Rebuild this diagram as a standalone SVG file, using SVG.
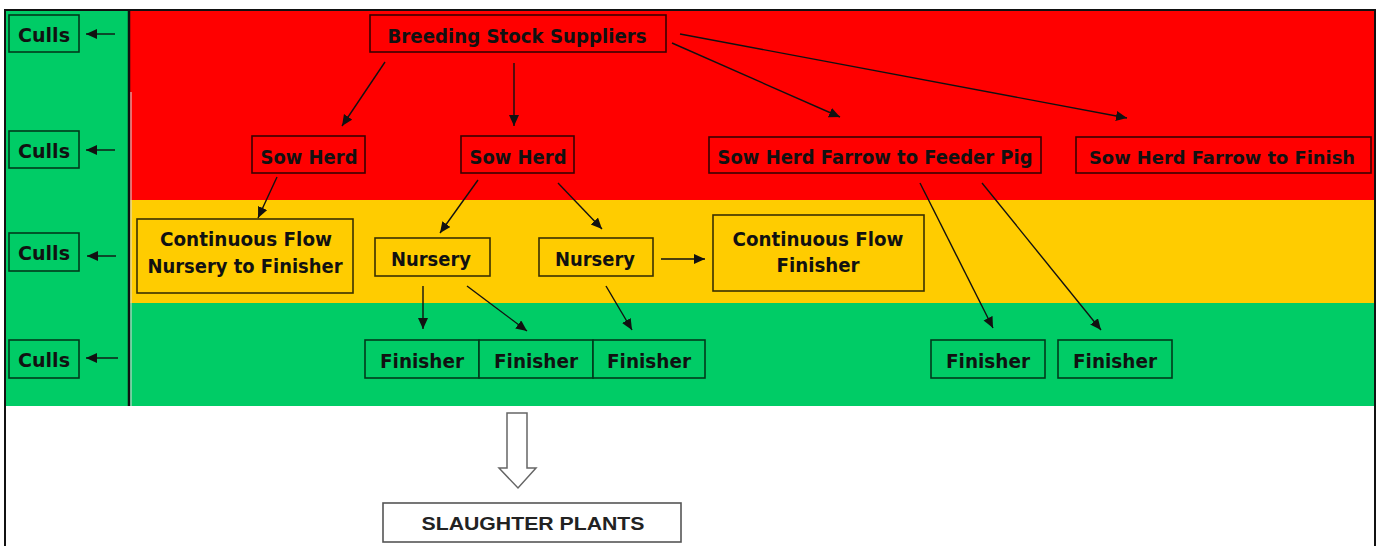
<svg xmlns="http://www.w3.org/2000/svg" width="1378" height="546" viewBox="0 0 1378 546">
<style>
.t{font-family:"DejaVu Sans",Verdana,sans-serif;font-weight:bold;font-size:20px;fill:#111;text-anchor:middle}
.s{font-family:"Liberation Sans",Arial,sans-serif;font-weight:bold;font-size:19px;fill:#222;text-anchor:middle}
.r{fill:#FF0000;stroke:#3a0000;stroke-width:1.6}
.y{fill:#FFCC00;stroke:#3a3000;stroke-width:1.6}
.g{fill:#00CC66;stroke:#003a1c;stroke-width:1.6}
.c{stroke:#111;stroke-width:1.4;fill:none;marker-end:url(#ah)}
</style>
<defs>
<marker id="ah" markerUnits="userSpaceOnUse" markerWidth="12" markerHeight="12" refX="11" refY="5" orient="auto">
<path d="M0,0 L11,5 L0,10 z" fill="#111"/>
</marker>
</defs>
<rect width="1378" height="546" fill="#fff"/>
<!-- bands -->
<rect x="5" y="10" width="124" height="396" fill="#00CC66"/>
<rect x="129" y="10" width="1246" height="190" fill="#FF0000"/>
<rect x="129" y="200" width="1246" height="103" fill="#FFCC00"/>
<rect x="129" y="303" width="1246" height="103" fill="#00CC66"/>
<path d="M5,546 V10 H1375 V546" fill="none" stroke="#111" stroke-width="2"/>
<line x1="129" y1="10" x2="129" y2="406" stroke="#111" stroke-width="2.5"/>
<line x1="131" y1="92" x2="131" y2="406" stroke="#ddd" stroke-width="1"/>

<g id="culls1"><rect class="g" x="9" y="15" width="70" height="37"/><text class="t" x="44" y="42" textLength="52" lengthAdjust="spacingAndGlyphs">Culls</text></g>
<g id="culls2"><rect class="g" x="9" y="131" width="70" height="37"/><text class="t" x="44" y="158" textLength="52" lengthAdjust="spacingAndGlyphs">Culls</text></g>
<g id="culls3"><rect class="g" x="9" y="233" width="70" height="38"/><text class="t" x="44" y="260" textLength="52" lengthAdjust="spacingAndGlyphs">Culls</text></g>
<g id="culls4"><rect class="g" x="9" y="340" width="70" height="38"/><text class="t" x="44" y="367" textLength="52" lengthAdjust="spacingAndGlyphs">Culls</text></g>

<g id="breeding"><rect class="r" x="370" y="15" width="296" height="37"/><text class="t" x="517" y="43" textLength="259" lengthAdjust="spacingAndGlyphs">Breeding Stock Suppliers</text></g>
<g id="sowherd1"><rect class="r" x="252" y="136" width="113" height="37"/><text class="t" x="309" y="164" textLength="97" lengthAdjust="spacingAndGlyphs">Sow Herd</text></g>
<g id="sowherd2"><rect class="r" x="461" y="136" width="113" height="37"/><text class="t" x="518" y="164" textLength="97" lengthAdjust="spacingAndGlyphs">Sow Herd</text></g>
<g id="feederpig"><rect class="r" x="709" y="137" width="332" height="36"/><text class="t" x="875" y="164" textLength="315" lengthAdjust="spacingAndGlyphs">Sow Herd Farrow to Feeder Pig</text></g>
<g id="finish"><rect class="r" x="1076" y="137" width="295" height="36"/><text class="t" x="1222" y="164" style="font-size:18.5px" textLength="266" lengthAdjust="spacingAndGlyphs">Sow Herd Farrow to Finish</text></g>

<g id="cfnursery"><rect class="y" x="137" y="219" width="216" height="74"/><text class="t" x="246" y="246" textLength="172" lengthAdjust="spacingAndGlyphs">Continuous Flow</text><text class="t" x="245" y="273" textLength="195" lengthAdjust="spacingAndGlyphs">Nursery to Finisher</text></g>
<g id="nursery1"><rect class="y" x="375" y="238" width="115" height="38"/><text class="t" x="431" y="266" textLength="80" lengthAdjust="spacingAndGlyphs">Nursery</text></g>
<g id="nursery2"><rect class="y" x="539" y="238" width="114" height="38"/><text class="t" x="595" y="266" textLength="80" lengthAdjust="spacingAndGlyphs">Nursery</text></g>
<g id="cffinisher"><rect class="y" x="713" y="215" width="211" height="76"/><text class="t" x="818" y="246" textLength="171" lengthAdjust="spacingAndGlyphs">Continuous Flow</text><text class="t" x="818" y="272" textLength="83" lengthAdjust="spacingAndGlyphs">Finisher</text></g>

<g id="finisher1"><rect class="g" x="365" y="340" width="114" height="38"/><text class="t" x="422" y="368" textLength="84" lengthAdjust="spacingAndGlyphs">Finisher</text></g>
<g id="finisher2"><rect class="g" x="479" y="340" width="114" height="38"/><text class="t" x="536" y="368" textLength="84" lengthAdjust="spacingAndGlyphs">Finisher</text></g>
<g id="finisher3"><rect class="g" x="593" y="340" width="112" height="38"/><text class="t" x="649" y="368" textLength="84" lengthAdjust="spacingAndGlyphs">Finisher</text></g>
<g id="finisher4"><rect class="g" x="931" y="340" width="114" height="38"/><text class="t" x="988" y="368" textLength="84" lengthAdjust="spacingAndGlyphs">Finisher</text></g>
<g id="finisher5"><rect class="g" x="1058" y="340" width="114" height="38"/><text class="t" x="1115" y="368" textLength="84" lengthAdjust="spacingAndGlyphs">Finisher</text></g>

<g id="slaughter"><rect x="383" y="503" width="298" height="39" fill="#fff" stroke="#555" stroke-width="1.6"/><text class="s" x="533" y="530" textLength="223" lengthAdjust="spacingAndGlyphs">SLAUGHTER PLANTS</text></g>

<g id="connectors">
<line class="c" x1="115" y1="34" x2="86" y2="34"/>
<line class="c" x1="115" y1="150" x2="86" y2="150"/>
<line class="c" x1="116" y1="256" x2="87" y2="256"/>
<line class="c" x1="118" y1="358" x2="86" y2="358"/>
<line class="c" x1="385" y1="62" x2="342" y2="126"/>
<line class="c" x1="514" y1="63" x2="514" y2="126"/>
<line class="c" x1="672" y1="43" x2="840" y2="117"/>
<line class="c" x1="680" y1="34" x2="1127" y2="118"/>
<line class="c" x1="277" y1="177" x2="258" y2="218"/>
<line class="c" x1="478" y1="180" x2="440" y2="233"/>
<line class="c" x1="558" y1="183" x2="602" y2="229"/>
<line class="c" x1="661" y1="259" x2="705" y2="259"/>
<line class="c" x1="423" y1="286" x2="423" y2="329"/>
<line class="c" x1="467" y1="286" x2="527" y2="331"/>
<line class="c" x1="606" y1="286" x2="632" y2="330"/>
<line class="c" x1="920" y1="183" x2="993" y2="328"/>
<line class="c" x1="982" y1="183" x2="1101" y2="330"/>
<path d="M507,413 H527 V468 H536 L518,488 L499,468 H507 Z" fill="#fff" stroke="#666" stroke-width="1.5"/>
</g>
</svg>
